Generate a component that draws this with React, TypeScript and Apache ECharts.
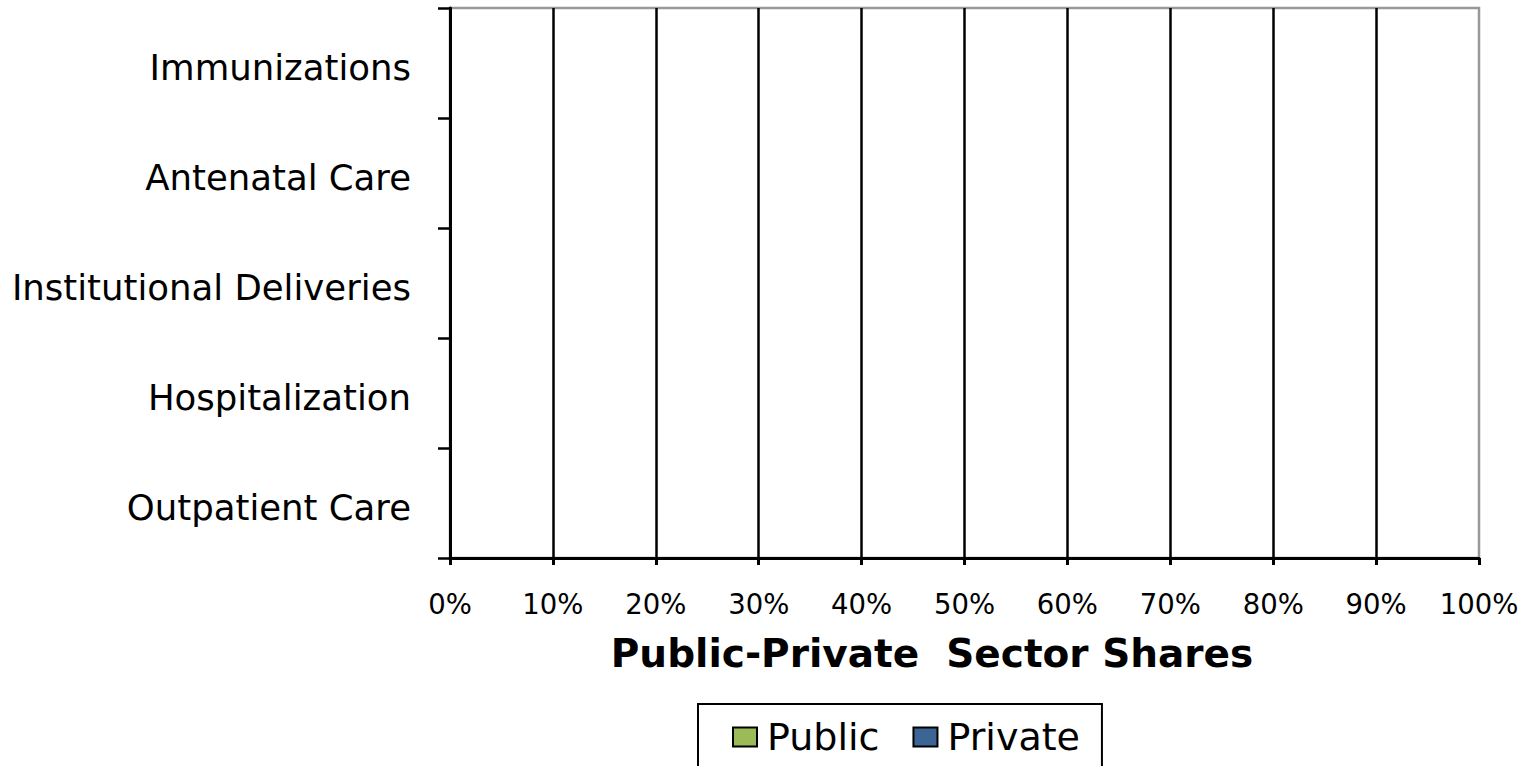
import React, { useEffect, useRef } from "react";
import * as echarts from "echarts";

// Categories (bottom to top, as ECharts draws a category y-axis from the bottom)
const categories: string[] = [
  "Outpatient Care",
  "Hospitalization",
  "Institutional Deliveries",
  "Antenatal Care",
  "Immunizations",
];

// No bars are visible in the reference, so the shares are empty
const publicShare: (number | null)[] = [null, null, null, null, null];
const privateShare: (number | null)[] = [null, null, null, null, null];

const seriesNames: string[] = ["Public", "Private"];
const xTicks: number[] = [0, 10, 20, 30, 40, 50, 60, 70, 80, 90, 100];
const axisTitle = "Public-Private  Sector Shares";

const FONT = "DejaVu Sans";

export default function App() {
  const ref = useRef<HTMLDivElement>(null);

  useEffect(() => {
    if (!ref.current) return;
    const chart = echarts.init(ref.current, undefined, { renderer: "svg" });
    chart.setOption({
      animation: false,
      backgroundColor: "#ffffff",
      textStyle: { fontFamily: FONT },
      grid: {
        left: 450,
        right: 58,
        top: 8,
        bottom: 208,
        show: true,
        borderColor: "#999999",
        borderWidth: 2.5,
        backgroundColor: "transparent",
      },
      legend: {
        data: seriesNames,
        left: 698,
        top: 704,
        orient: "horizontal",
        icon: "rect",
        itemWidth: 24,
        itemHeight: 19,
        itemGap: 33,
        padding: [14, 22, 60, 34],
        borderColor: "#000000",
        borderWidth: 2,
        textStyle: { fontFamily: FONT, fontSize: 38, color: "#000000", padding: [0, 0, 0, 5] },
        itemStyle: { borderColor: "#000000", borderWidth: 2 },
      },
      graphic: [
        {
          type: "text",
          x: 932,
          y: 653,
          style: {
            text: axisTitle,
            fontFamily: FONT,
            fontSize: 39,
            fontWeight: "bold",
            fill: "#000000",
            align: "center",
            verticalAlign: "middle",
          },
        },
      ],
      xAxis: {
        type: "value",
        min: xTicks[0],
        max: xTicks[xTicks.length - 1],
        interval: 10,
        axisLine: { show: true, lineStyle: { color: "#000000", width: 3 } },
        axisTick: { show: true, length: 7, lineStyle: { color: "#000000", width: 3 } },
        axisLabel: {
          formatter: "{value}%",
          fontFamily: FONT,
          fontSize: 27.5,
          color: "#000000",
          margin: 32,
        },
        splitLine: {
          show: true,
          showMinLine: false,
          showMaxLine: false,
          lineStyle: { color: "#000000", width: 2.5 },
        },
      },
      yAxis: {
        type: "category",
        data: categories,
        axisLine: { show: true, lineStyle: { color: "#000000", width: 3 } },
        axisTick: { show: true, length: 12, lineStyle: { color: "#000000", width: 2.5 } },
        axisLabel: {
          fontFamily: FONT,
          fontSize: 35.5,
          color: "#000000",
          margin: 39,
          verticalAlign: "top",
          lineHeight: 8,
        },
        splitLine: { show: false },
      },
      series: [
        {
          name: seriesNames[0],
          type: "bar",
          stack: "share",
          data: publicShare,
          itemStyle: { color: "#9BBB59", borderColor: "#000000", borderWidth: 1 },
          barWidth: "55%",
        },
        {
          name: seriesNames[1],
          type: "bar",
          stack: "share",
          data: privateShare,
          itemStyle: { color: "#3C6494", borderColor: "#000000", borderWidth: 1 },
          barWidth: "55%",
        },
      ],
    });
    return () => chart.dispose();
  }, []);

  return <div ref={ref} style={{ width: 1537, height: 766, position: "absolute", left: 0, top: 0 }} />;
}
